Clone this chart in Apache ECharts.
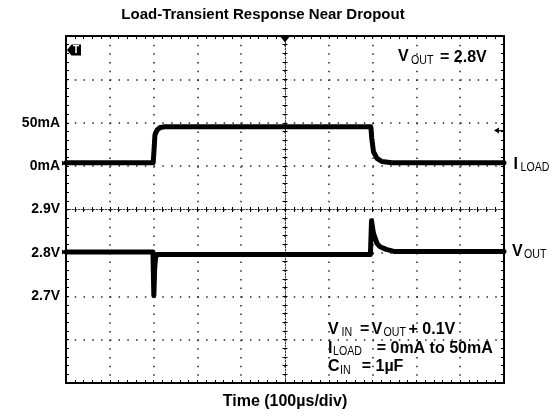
<!DOCTYPE html>
<html>
<head>
<meta charset="utf-8">
<title>Load-Transient Response Near Dropout</title>
<script src="https://cdn.jsdelivr.net/npm/echarts@6/dist/echarts.min.js"></script>
<style>
html, body { margin: 0; padding: 0; background: #fff; }
#main { width: 558px; height: 419px; }
</style>
</head>
<body>
<div id="main"></div>
<script>
// time axis in µs, trigger at 0, 100µs/div
var timeRange = [-500, 500];
var timeStep = 100;

// I_LOAD trace (mA)
var iloadTime  = [-500, -301, -299, -297, -292, -285, -274, 196, 198, 202, 210, 221, 244, 500];
var iloadValue = [3.8, 3.8, 18.6, 35.8, 41.6, 44.5, 45.3, 45.3, 32.4, 16.6, 9.0, 5.3, 3.9, 3.9];

// V_OUT trace (V)
var voutTime  = [-500, -301.5, -299.5, -297.5, -295.5, -292, 195, 197.5, 202, 210, 217, 231, 251, 500];
var voutValue = [2.802, 2.802, 2.701, 2.765, 2.789, 2.796, 2.796, 2.874, 2.845, 2.822, 2.814, 2.808, 2.803, 2.803];

// scope scales: 50mA/div and 100mV/div
var currentRange = [-250, 150], currentStep = 50;
var voltRange = [2.5, 3.3], voltStep = 0.1;
var currentTicks = [0, 50], currentTickLabels = ['0mA', '50mA'];
var voltTicks = [2.7, 2.8, 2.9], voltTickLabels = ['2.7V', '2.8V', '2.9V'];
var triggerLevel = 41;   // mA

var FONT = '"Liberation Sans", Arial, sans-serif';
var black = '#000';

function pickLabel(values, labels) {
    return function (v) {
        for (var i = 0; i < values.length; i++) {
            if (Math.abs(v - values[i]) < 1e-6) return labels[i];
        }
        return '';
    };
}
function zip(xs, ys) {
    return xs.map(function (x, i) { return [x, ys[i]]; });
}
function tickCfg(inside, len) {
    return { show: true, inside: inside, length: len, lineStyle: { color: black, width: 1 } };
}
function minorCfg(len) {
    return { show: true, splitNumber: 5, length: len, lineStyle: { color: black, width: 1 } };
}
var borderLine = { show: true, onZero: false, lineStyle: { color: black, width: 2 } };
var centerStyle = { color: '#333', width: 1, type: [1.5, 1.5] };

function timeAxis(gridIndex, extra) {
    return Object.assign({
        type: 'value', gridIndex: gridIndex,
        min: timeRange[0], max: timeRange[1], interval: timeStep,
        axisLabel: { show: false }, splitLine: { show: false },
        axisTick: { show: false }, axisLine: { show: false, onZero: false }
    }, extra);
}
function divAxis(gridIndex, extra) {
    return Object.assign({
        type: 'value', gridIndex: gridIndex, min: -4, max: 4, interval: 1,
        axisLabel: { show: false }, splitLine: { show: false },
        axisTick: { show: false }, axisLine: { show: false, onZero: false }
    }, extra);
}

var box = { left: 66, right: 54, top: 36, bottom: 36, outerBoundsMode: 'none' };
var grids = [0, 1, 2, 3, 4].map(function () { return Object.assign({}, box); });

var labelFont = { color: black, fontFamily: FONT, fontWeight: 'bold', fontSize: 14, margin: 6 };

// texts: [text, x, y, sub?]
var notes = [
    ['V', 398, 57, 0], ['OUT', 411, 60.5, 1], ['= 2.8V', 440, 57.5, 0],
    ['I', 513.5, 164.5, 0], ['LOAD', 520.5, 168, 1],
    ['V', 512, 251.5, 0], ['OUT', 524, 255, 1],
    ['V', 328, 329.5, 0], ['IN', 341.5, 333, 1], ['=', 360, 329.5, 0],
    ['V', 371.5, 329.5, 0], ['OUT', 383.5, 333, 1], ['+ 0.1V', 408.5, 329.5, 0],
    ['I', 328, 348.3, 0], ['LOAD', 333, 351.8, 1], ['= 0mA to 50mA', 376.7, 348.3, 0],
    ['C', 328, 367, 0], ['IN', 340, 370.5, 1], ['= 1µF', 361.7, 367, 0]
];

var graphics = notes.map(function (n) {
    return {
        type: 'text', x: n[1], y: n[2], scaleX: n[3] ? 0.85 : 1, silent: true,
        style: {
            text: n[0], fill: black, fontFamily: FONT,
            fontSize: n[3] ? 12.5 : 16, fontWeight: n[3] ? 'normal' : 'bold',
            align: 'left', verticalAlign: 'middle'
        }
    };
});
graphics.push({
    type: 'text', x: 263, y: 15, silent: true,
    style: { text: 'Load-Transient Response Near Dropout', fill: black, fontFamily: FONT,
             fontSize: 15, fontWeight: 'bold', align: 'center', verticalAlign: 'middle' }
});
// trigger source badge
graphics.push({
    type: 'polygon', silent: true,
    shape: { points: [[67, 50], [71.5, 44.5], [81, 44.5], [81, 55.5], [71.5, 55.5]] },
    style: { fill: black }
});
graphics.push({
    type: 'text', x: 76, y: 50.5, silent: true,
    style: { text: 'T', fill: '#fff', fontFamily: FONT, fontSize: 10, fontWeight: 'bold',
             align: 'center', verticalAlign: 'middle' }
});

var myChart = echarts.init(document.getElementById('main'), null, { renderer: 'canvas' });
var option = {
    animation: false,
    backgroundColor: '#fff',
    grid: grids,
    xAxis: [
        timeAxis(0, {
            position: 'bottom', axisLine: borderLine,
            axisTick: tickCfg(true, 3), minorTick: minorCfg(3),
            splitLine: { show: true, lineStyle: { color: '#222', width: 1.5, type: [1.5, 7.175] } },
            name: 'Time (100µs/div)', nameLocation: 'middle', nameGap: 11,
            nameTextStyle: { color: black, fontFamily: FONT, fontWeight: 'bold', fontSize: 16 }
        }),
        timeAxis(1, { position: 'top', axisLine: borderLine, axisTick: tickCfg(true, 3), minorTick: minorCfg(3) }),
        timeAxis(2, { axisLine: { show: true, onZero: true, lineStyle: centerStyle },
                      axisTick: tickCfg(true, 2.5), minorTick: minorCfg(2.5) }),
        timeAxis(3, { axisLine: { show: false, onZero: true },
                      axisTick: tickCfg(false, 2.5), minorTick: minorCfg(2.5) }),
        timeAxis(4, { show: false })
    ],
    yAxis: [
        {
            type: 'value', gridIndex: 0, position: 'left',
            min: currentRange[0], max: currentRange[1], interval: currentStep,
            axisLine: borderLine, axisTick: tickCfg(true, 3), minorTick: minorCfg(3),
            splitLine: { show: true, lineStyle: { color: '#222', width: 1.5, type: [1.5, 7.26] } },
            axisLabel: Object.assign({ formatter: pickLabel(currentTicks, currentTickLabels) }, labelFont)
        },
        {
            type: 'value', gridIndex: 1, position: 'left',
            min: voltRange[0], max: voltRange[1], interval: voltStep,
            axisLine: { show: false, onZero: false }, axisTick: { show: false },
            splitLine: { show: false },
            axisLabel: Object.assign({ formatter: pickLabel(voltTicks, voltTickLabels) }, labelFont)
        },
        divAxis(2, { position: 'right', axisLine: borderLine, axisTick: tickCfg(true, 3), minorTick: minorCfg(3) }),
        divAxis(3, { axisLine: { show: true, onZero: true, lineStyle: centerStyle },
                     axisTick: tickCfg(true, 2.5), minorTick: minorCfg(2.5) }),
        divAxis(4, { axisLine: { show: false, onZero: true },
                     axisTick: tickCfg(false, 2.5), minorTick: minorCfg(2.5) })
    ],
    series: [
        {
            name: 'ILOAD', type: 'line', xAxisIndex: 0, yAxisIndex: 0,
            data: zip(iloadTime, iloadValue),
            showSymbol: false, silent: true,
            lineStyle: { color: black, width: 5, join: 'round', cap: 'round' },
            markPoint: {
                silent: true, label: { show: false },
                itemStyle: { color: black },
                data: [
                    { coord: [0, currentRange[1]], symbol: 'triangle', symbolRotate: 180,
                      symbolSize: [11, 7], symbolOffset: [0, 3] },
                    { coord: [timeRange[1], triggerLevel],
                      symbol: 'path://M0,3 L5,0 L5,2.4 L10,2.4 L10,3.6 L5,3.6 L5,6 Z',
                      symbolSize: [10, 6], symbolOffset: [-5, 0] },
                    { coord: [timeRange[0], 0], symbol: 'triangle', symbolRotate: -90,
                      symbolSize: [5, 4], symbolOffset: [-2, -3] }
                ]
            }
        },
        {
            name: 'VOUT', type: 'line', xAxisIndex: 1, yAxisIndex: 1,
            data: zip(voutTime, voutValue),
            showSymbol: false, silent: true,
            lineStyle: { color: black, width: 5, join: 'round', cap: 'round' },
            markPoint: {
                silent: true, label: { show: false },
                itemStyle: { color: black },
                data: [
                    { coord: [timeRange[0], 2.8], symbol: 'triangle', symbolRotate: -90,
                      symbolSize: [5, 4], symbolOffset: [-2, -1] }
                ]
            }
        }
    ],
    graphic: graphics
};
myChart.setOption(option);
window.addEventListener('resize', function () {
    myChart.resize();
});
</script>
</body>
</html>
